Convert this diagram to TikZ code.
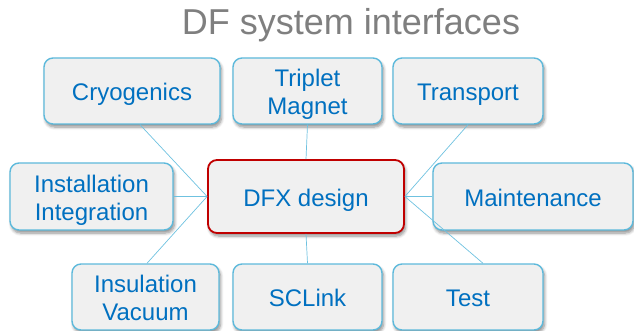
\documentclass[tikz,border=0pt]{standalone}
\usepackage{fontspec}
\setmainfont{Liberation Sans}
\usetikzlibrary{shadows.blur}
\definecolor{boxfill}{HTML}{F0F0F0}
\definecolor{boxline}{HTML}{5DB9DB}
\definecolor{linkblue}{HTML}{6FC2E0}
\definecolor{dfxred}{HTML}{C00000}
\definecolor{textblue}{HTML}{0070C0}
\definecolor{titlegray}{HTML}{7F7F7F}
% labels with fixed ascent and descent, so every label sits at the same height in its box
\newcommand\labone[1]{\rule{0pt}{21.5pt}\smash{#1}\rule[-2pt]{0pt}{2pt}}
\newcommand\labtwo[2]{\rule{0pt}{21.5pt}\smash{#1}\\\smash{#2}\rule[-2pt]{0pt}{2pt}}
\begin{document}
\begin{tikzpicture}[x=1pt,y=-1pt,
  box/.style={draw=boxline, line width=1.4pt, fill=boxfill, rounded corners=9pt,
    inner sep=0pt, text=textblue, font=\fontsize{24}{27.8}\selectfont, align=center,
    blur shadow={shadow xshift=1.5pt, shadow yshift=-3pt, shadow blur steps=6,
      shadow blur radius=3pt, shadow opacity=45}},
  mainbox/.style={box, draw=dfxred, line width=1.8pt},
  link/.style={draw=linkblue, line width=0.7pt}]
\useasboundingbox (0,0) rectangle (634,331);

% title
\node[anchor=base, text=titlegray, font=\fontsize{36}{40}\selectfont, inner sep=0pt]
  (title) at (351,34.5) {DF system interfaces};

% interface boxes
\node[box, minimum width=176pt, minimum height=66pt] (cryo)  at (132,91)   {\labone{Cryogenics}};
\node[box, minimum width=149pt, minimum height=66pt] (trip)  at (307.5,91) {\labtwo{Triplet}{Magnet}};
\node[box, minimum width=150pt, minimum height=66pt] (trans) at (468,91)   {\labone{Transport}};
\node[box, minimum width=163pt, minimum height=67pt] (inst)  at (91.5,196.5) {\labtwo{Installation}{Integration}};
\node[box, minimum width=200pt, minimum height=67pt] (maint) at (533,196.5) {\labone{Maintenance}};
\node[box, minimum width=147pt, minimum height=66pt] (insul) at (145.5,297) {\labtwo{Insulation}{Vacuum}};
\node[box, minimum width=149pt, minimum height=66pt] (sclink) at (307.5,297) {\labone{SCLink}};
\node[box, minimum width=150pt, minimum height=66pt] (test)  at (468,297)  {\labone{Test}};

% central design box
\node[mainbox, minimum width=196pt, minimum height=73pt] (dfx) at (306,196.5) {\labone{DFX design}};

% connectors
\draw[link] (dfx.west) -- ([xshift=8pt]cryo.south);
\draw[link] (dfx.west) -- (inst.east);
\draw[link] (dfx.west) -- ([xshift=1.5pt]insul.north);
\draw[link] (dfx.north) -- (trip.south);
\draw[link] (dfx.south) -- (sclink.north);
\draw[link] (dfx.east) -- (trans.south);
\draw[link] (dfx.east) -- (maint.west);
\draw[link] (dfx.east) -- ([xshift=15pt]test.north);
\end{tikzpicture}
\end{document}
